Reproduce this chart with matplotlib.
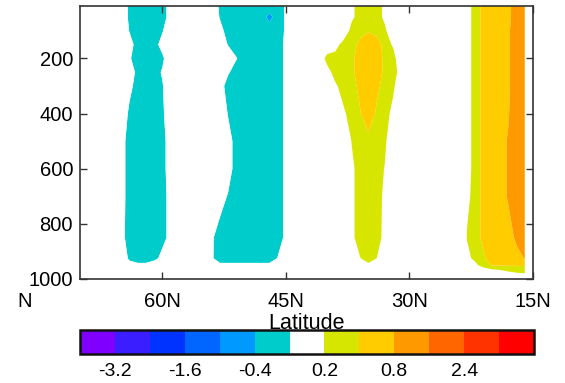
import numpy as np
import matplotlib
matplotlib.use("Agg")
import matplotlib.pyplot as plt

plt.rcParams['font.family'] = ['Liberation Sans', 'DejaVu Sans']

# latitude grid (70N .. 16N, 1 degree)
lat = np.arange(70, 15, -1)
# pressure levels (hPa)
lev = [10, 50, 100, 150, 200, 250, 300, 400, 500, 600, 700, 850, 925, 950, 975, 1000]

# field values; each row: 70-61 | 60-51 | 50-41 | 40-31 | 30-21 | 20-16
r10 = [0,0,0,0,0,0,-.25,-.3,-.3,-.3,   -.3,-.1,0,0,0,0,0,-.25,-.3,-.3,
       -.3,-.3,-.3,-.3,-.3,-.17,0,0,0,0, 0,0,0,.15,.3,.3,.3,.15,0,0,
       0,0,0,0,0,0,0,.15,.25,.5,        .6,.6,.6,1.2,1.2]
r50 = [0,0,0,0,0,0,-.25,-.3,-.3,-.3,   -.3,-.1,0,0,0,0,0,-.22,-.3,-.3,
       -.3,-.3,-.3,-.46,-.3,-.17,0,0,0,0, 0,0,0,.15,.3,.3,.3,.15,0,0,
       0,0,0,0,0,0,0,.15,.25,.5,        .6,.6,.6,1.2,1.2]
r100 = [0,0,0,0,0,0,-.21,-.3,-.3,-.3,  -.22,0,0,0,0,0,0,-.12,-.3,-.3,
        -.3,-.3,-.3,-.3,-.3,-.17,0,0,0,0, 0,0,0,.3,.3,.38,.3,.25,0,0,
        0,0,0,0,0,0,0,.15,.25,.5,       .6,.6,.7,1.2,1.2]
r150 = [0,0,0,0,0,0,-.1,-.3,-.3,-.3,   -.1,0,0,0,0,0,0,0,-.22,-.3,
        -.3,-.3,-.3,-.3,-.3,-.15,0,0,0,0, 0,.1,.3,.3,.47,.55,.55,.3,.175,0,
        0,0,0,0,0,0,0,.15,.25,.5,       .6,.6,.7,1.2,1.2]
r200 = [0,0,0,0,0,0,-.175,-.3,-.3,-.3, -.25,0,0,0,0,0,0,0,0,-.19,
        -.3,-.3,-.3,-.3,-.3,-.15,0,0,0,0, .29,.3,.3,.3,.63,.65,.63,.3,.3,0,
        0,0,0,0,0,0,0,.15,.25,.5,       .6,.6,.7,1.2,1.2]
r250 = [0,0,0,0,0,0,0,-.3,-.3,-.3,     -.175,0,0,0,0,0,0,0,-.175,-.3,
        -.3,-.3,-.3,-.3,-.3,-.15,0,0,0,0, .1,.3,.3,.3,.63,.65,.63,.3,.3,.1,
        0,0,0,0,0,0,0,.15,.25,.5,       .6,.6,.7,1.2,1.2]
r300 = [0,0,0,0,0,0,-.13,-.3,-.3,-.3,  -.22,0,0,0,0,0,0,-.1,-.3,-.3,
        -.3,-.3,-.3,-.3,-.3,-.15,0,0,0,0, 0,.16,.3,.3,.47,.55,.47,.3,.25,0,
        0,0,0,0,0,0,0,.15,.25,.5,       .6,.6,.7,1.2,1.2]
r400 = [0,0,0,0,0,0,-.25,-.3,-.3,-.3,  -.25,0,0,0,0,0,0,0,-.22,-.3,
        -.3,-.3,-.3,-.3,-.3,-.15,0,0,0,0, 0,0,.16,.3,.38,.58,.36,.3,.13,0,
        0,0,0,0,0,0,0,.15,.25,.5,       .6,.6,.75,1.2,1.2]
r500 = [0,0,0,0,0,-.1,-.3,-.3,-.3,-.3, -.3,-.05,0,0,0,0,0,0,-.1,-.3,
        -.3,-.3,-.3,-.3,-.3,-.15,0,0,0,0, 0,0,0,.21,.3,.32,.3,.25,0,0,
        0,0,0,0,0,0,0,.15,.25,.5,       .6,.6,.85,1.2,1.2]
r600 = [0,0,0,0,0,-.1,-.3,-.3,-.3,-.3, -.3,-.05,0,0,0,0,0,0,-.1,-.3,
        -.3,-.3,-.3,-.3,-.3,-.15,0,0,0,0, 0,0,0,.15,.3,.3,.3,.19,0,0,
        0,0,0,0,0,0,0,.15,.25,.5,       .6,.6,.85,1.2,1.2]
r700 = [0,0,0,0,0,-.1,-.3,-.3,-.3,-.3, -.3,-.1,0,0,0,0,0,-.1,-.22,-.3,
        -.3,-.3,-.3,-.3,-.3,-.15,0,0,0,0, 0,0,0,.15,.3,.3,.3,.15,0,0,
        0,0,0,0,0,0,0,.17,.25,.5,       .6,.6,.85,1.2,1.2]
r850 = [0,0,0,0,0,-.12,-.3,-.3,-.3,-.3, -.3,-.1,0,0,0,0,-.17,-.3,-.3,-.3,
        -.3,-.3,-.3,-.3,-.3,-.15,0,0,0,0, 0,0,0,.15,.3,.3,.3,.13,0,0,
        0,0,0,0,0,0,0,.21,.25,.5,       .6,.6,.6,.89,1.2]
r925 = [0,0,0,0,0,0,-.25,-.3,-.3,-.3,  -.1,0,0,0,0,0,-.175,-.3,-.3,-.3,
        -.3,-.3,-.3,-.3,-.19,0,0,0,0,0,  0,0,0,0,.19,.3,.205,0,0,0,
        0,0,0,0,0,0,0,.15,.25,.35,      .55,.55,.55,.65,.82]
r950 = [0,0,0,0,0,0,-.1,-.15,-.15,0,   0,0,0,0,0,0,0,-.15,-.15,-.15,
        -.15,-.15,-.15,-.15,0,0,0,0,0,0, 0,0,0,0,0,.15,0,0,0,0,
        0,0,0,0,0,0,0,0,.15,.3,         .42,.42,.42,.42,.42]
r975 = [0,0,0,0,0,0,0,0,0,0,           0,0,0,0,0,0,0,0,0,0,
        0,0,0,0,0,0,0,0,0,0,           0,0,0,0,0,0,0,0,0,0,
        0,0,0,0,0,0,0,0,0,0,           .05,.1,.18,.22,.24]
r1000 = [0] * 55

rows = [r10, r50, r100, r150, r200, r250, r300, r400, r500, r600, r700,
        r850, r925, r950, r975, r1000]
for r in rows:
    assert len(r) == len(lat), len(r)
field = np.array(rows, dtype=float)

# contour levels and colours
levels = [-4.0, -3.2, -2.4, -1.6, -0.8, -0.4, -0.2, 0.2, 0.4, 0.8, 1.6, 2.4, 3.2, 4.0]
colors = ['#7F00FF', '#3A1EFF', '#0033FF', '#0066FF', '#0099FF', '#00CCCC', '#FFFFFF',
          '#D6E600', '#FFCC00', '#FF9900', '#FF6600', '#FF3300', '#FF0000']
cbar_ticks = [-3.2, -1.6, -0.4, 0.2, 0.8, 2.4]
cbar_ticklabels = ['-3.2', '-1.6', '-0.4', '0.2', '0.8', '2.4']
xticks = [60, 45, 30, 15]
xticklabels = ['60N', '45N', '30N', '15N']
yticks = [200, 400, 600, 800, 1000]

W, H = 565, 383
fig = plt.figure(figsize=(W / 100, H / 100), dpi=100)
ax = fig.add_axes([80 / W, 1 - 279 / H, 453 / W, 273 / H])

cf = ax.contourf(lat, lev, field, levels=levels, colors=colors, antialiased=True)

ax.set_xlim(70, 15)
ax.set_ylim(1000, 10)
ax.set_xticks(xticks)
ax.set_xticklabels(xticklabels)
ax.set_yticks(yticks)
ax.tick_params(axis='both', direction='in', length=5, width=1.0, color='#333333',
               labelsize=14.5, top=True, right=True)
ax.tick_params(axis='x', pad=9.5)
ax.tick_params(axis='y', pad=5)
for s in ax.spines.values():
    s.set_linewidth(1.2)
    s.set_color('#333333')

fig.text(306.5 / W, 1 - 329 / H, 'Latitude', ha='center', va='baseline', fontsize=15.5)
fig.text(17 / W, 1 - 307 / H, 'N', ha='left', va='baseline', fontsize=14.5)

cax = fig.add_axes([80 / W, 1 - 354 / H, 454 / W, 24 / H])
cb = fig.colorbar(cf, cax=cax, orientation='horizontal', spacing='uniform')
cb.set_ticks(cbar_ticks)
cb.set_ticklabels(cbar_ticklabels)
cb.ax.tick_params(length=0, labelsize=14, pad=6.5)
cb.outline.set_linewidth(1.8)
cb.outline.set_edgecolor('#111111')

fig.savefig('out.png', dpi=100)
